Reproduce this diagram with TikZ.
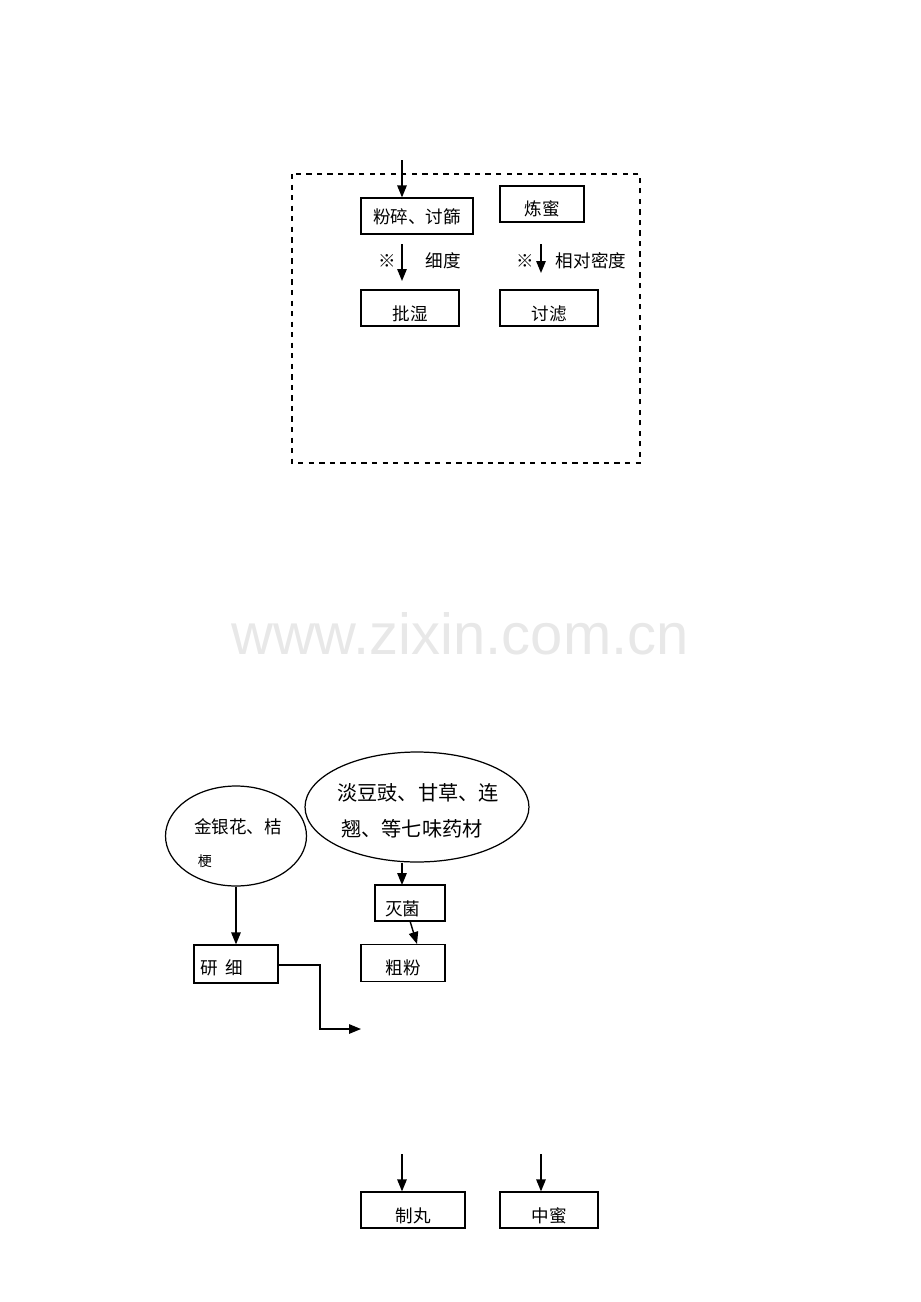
\documentclass[tikz,border=0pt]{standalone}
\usepackage{fontspec}
\setmainfont{Liberation Sans}
\newfontfamily\cjk{Noto Sans CJK SC}
\usetikzlibrary{arrows.meta,shapes.geometric,positioning}
\newcommand{\low}[2]{\raisebox{#1}[0pt][0pt]{#2}}
\tikzset{
  box/.style={draw, line width=0.7pt, inner sep=0pt, font=\cjk\fontsize{10}{12}\selectfont},
  blob/.style={draw, ellipse, line width=0.7pt, inner sep=0pt},
  arr/.style={line width=0.8pt, -{Triangle[length=0.24cm,width=0.19cm]}},
  lbl/.style={inner sep=0pt, font=\cjk\fontsize{10}{12}\selectfont}
}
\begin{document}
\begin{tikzpicture}[x=0.02cm, y=-0.02cm]
  \useasboundingbox (0,0) rectangle (920,1302);

  % upper part
  \draw[dashed, line width=0.6pt] (292,174) rectangle (640,463);
  \coordinate (in1) at (402,160);
  \node[box, minimum width=2.24cm, minimum height=0.72cm] (fensui) at (417,216) {\low{-4.5pt}{粉碎、讨篩}};
  \node[box, minimum width=1.68cm, minimum height=0.72cm] (lianmi) at (542,204) {\low{-6.5pt}{炼蜜}};
  \node[box, minimum width=1.96cm, minimum height=0.72cm] (pishi) at (410,308) {\low{-7pt}{批湿}};
  \node[box, minimum width=1.96cm, minimum height=0.72cm] (guolv) at (549,308) {\low{-7pt}{讨滤}};
  \draw[arr] (in1) -- (in1 |- fensui.north);
  \coordinate (s1) at (402,244);
  \coordinate (s2) at (541,244);
  \draw[arr] (s1) -- (402,281);
  \draw[arr] (s2) -- (541,273);
  \node[lbl] at (387,261) {※};
  \node[lbl] at (443,261) {细度};
  \node[lbl] at (525,261) {※};
  \node[lbl] at (591,261) {相对密度};

  % watermark
  \node[text=black!9, font=\fontsize{33}{36}\selectfont] (mark) at (460,634) {www.zixin.com.cn};

  % lower part
  \node[blob, minimum width=2.82cm, minimum height=2.0cm] (jyh) at (236,836) {};
  \node[lbl] at (238,827) {金银花、桔};
  \node[lbl, font=\cjk\fontsize{8}{9}\selectfont] at (205,861) {梗};
  \node[blob, minimum width=4.48cm, minimum height=2.2cm] (dandou) at (417,807) {};
  \node[lbl, font=\cjk\fontsize{11.5}{14}\selectfont] at (418,793) {淡豆豉、甘草、连};
  \node[lbl, font=\cjk\fontsize{11.5}{14}\selectfont] at (412,829) {翘、等七味药材};

  \node[box, minimum width=1.40cm, minimum height=0.72cm] (miejun) at (410,903) {\hspace{-8pt}\low{-7pt}{灭菌}};
  \node[box, minimum width=1.68cm, minimum height=0.74cm] (cufen) at (403,963) {\low{-6.5pt}{粗粉}};
  \node[box, minimum width=1.68cm, minimum height=0.76cm] (yanxi) at (236,964) {\hspace{-16pt}\low{-6pt}{研\hspace{4pt}细}};
  \coordinate (out1) at (361,1029);

  \draw[arr] (dandou.south -| 402,0) -- (402,885);
  \draw[arr] (410,921) -- (417,944);
  \draw[arr] (jyh) -- (yanxi);
  \draw[arr] (yanxi.east |- 0,965) -- (320,965) |- (out1);

  \node[box, minimum width=2.08cm, minimum height=0.72cm] (zhiwan) at (413,1210) {\low{-7pt}{制丸}};
  \node[box, minimum width=1.96cm, minimum height=0.72cm] (zhongmi) at (549,1210) {\low{-7pt}{中蜜}};
  \coordinate (in2) at (402,1154);
  \coordinate (in3) at (541,1154);
  \draw[arr] (in2) -- (in2 |- zhiwan.north);
  \draw[arr] (in3) -- (in3 |- zhongmi.north);
\end{tikzpicture}
\end{document}
